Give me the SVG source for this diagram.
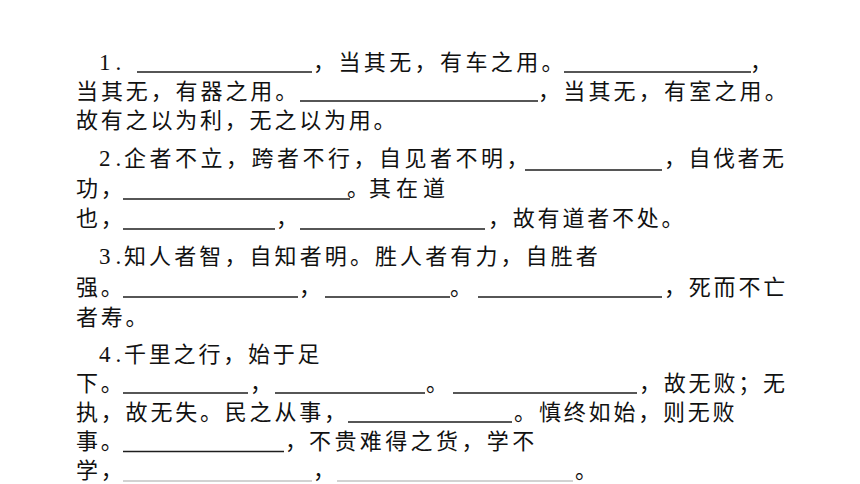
<svg xmlns="http://www.w3.org/2000/svg" width="860" height="484" viewBox="0 0 860 484">
<style>
.t{font-family:"Noto Sans CJK SC","Noto Sans CJK JP",sans-serif;font-size:22px;letter-spacing:2.8px;fill:#111}
.n{font-family:"Liberation Serif","Noto Sans CJK SC",serif;font-size:23px;letter-spacing:5px;fill:#111}
.u{stroke:#1e1e1e;stroke-width:1.3}
.g{stroke:#a6a6a6;stroke-width:1.2}
</style>
<rect width="860" height="484" fill="#fff"/>
<g id="q1">
<text class="n" x="99" y="70">1.</text>
<line class="u" x1="137" y1="72" x2="312" y2="72"/>
<text class="t" x="313" y="70" style="letter-spacing:3.4px">，当其无，有车之用。</text>
<line class="u" x1="564" y1="72" x2="751" y2="72"/>
<text class="t" x="750" y="70">，</text>
<text class="t" x="76" y="99" style="letter-spacing:2.9px">当其无，有器之用。</text>
<line class="u" x1="300" y1="101" x2="538" y2="101"/>
<text class="t" x="538" y="99" style="letter-spacing:3.2px">，当其无，有室之用。</text>
<text class="t" x="76" y="128">故有之以为利，无之以为用。</text>
</g>
<g id="q2">
<text class="n" x="99" y="166">2.</text>
<text class="t" x="124" y="166" style="letter-spacing:3.5px">企者不立，跨者不行，自见者不明，</text>
<line class="u" x1="525" y1="170" x2="662" y2="170"/>
<text class="t" x="664" y="166" style="letter-spacing:2.5px">，自伐者无</text>
<text class="t" x="76" y="196">功，</text>
<line class="u" x1="123" y1="199" x2="350" y2="199"/>
<text class="t" x="347" y="196" style="letter-spacing:0px">。</text>
<text class="t" x="369" y="196" style="letter-spacing:5px">其在道</text>
<text class="t" x="76" y="226">也，</text>
<line class="u" x1="123" y1="229" x2="275" y2="229"/>
<text class="t" x="276" y="226">，</text>
<line class="u" x1="300" y1="229" x2="485" y2="229"/>
<text class="t" x="488" y="226">，故有道者不处。</text>
</g>
<g id="q3">
<text class="n" x="99" y="264">3.</text>
<text class="t" x="124" y="264" style="letter-spacing:3.1px">知人者智，自知者明。胜人者有力，自胜者</text>
<text class="t" x="76" y="295">强。</text>
<line class="u" x1="123" y1="297" x2="298" y2="297"/>
<text class="t" x="299" y="295">，</text>
<line class="u" x1="325" y1="297" x2="450" y2="297"/>
<text class="t" x="450" y="295">。</text>
<line class="u" x1="478" y1="297" x2="662" y2="297"/>
<text class="t" x="664" y="295">，死而不亡</text>
<text class="t" x="76" y="324.5">者寿。</text>
</g>
<g id="q4">
<text class="n" x="99" y="361.5">4.</text>
<text class="t" x="124" y="361.5">千里之行，始于足</text>
<text class="t" x="76" y="391">下。</text>
<line class="u" x1="123" y1="393" x2="248" y2="393"/>
<text class="t" x="250" y="391">，</text>
<line class="u" x1="275" y1="393" x2="425" y2="393"/>
<text class="t" x="426" y="391">。</text>
<line class="u" x1="453" y1="393" x2="637" y2="393"/>
<text class="t" x="639" y="391">，故无败；无</text>
<text class="t" x="76" y="420">执，故无失。民之从事，</text>
<line class="u" x1="348" y1="422" x2="512" y2="422"/>
<text class="t" x="514" y="420">。</text>
<text class="t" x="539" y="420">慎终如始，则无败</text>
<text class="t" x="76" y="449">事。</text>
<line class="u" x1="123" y1="451.5" x2="284" y2="451.5"/>
<text class="t" x="285" y="449">，</text>
<text class="t" x="309" y="449" style="letter-spacing:3.4px">不贵难得之货，学不</text>
<text class="t" x="76" y="478">学，</text>
<line class="g" x1="123" y1="481" x2="312" y2="481"/>
<text class="t" x="313" y="478">，</text>
<line class="g" x1="337" y1="481" x2="573" y2="481"/>
<text class="t" x="575" y="478">。</text>
</g>
</svg>
